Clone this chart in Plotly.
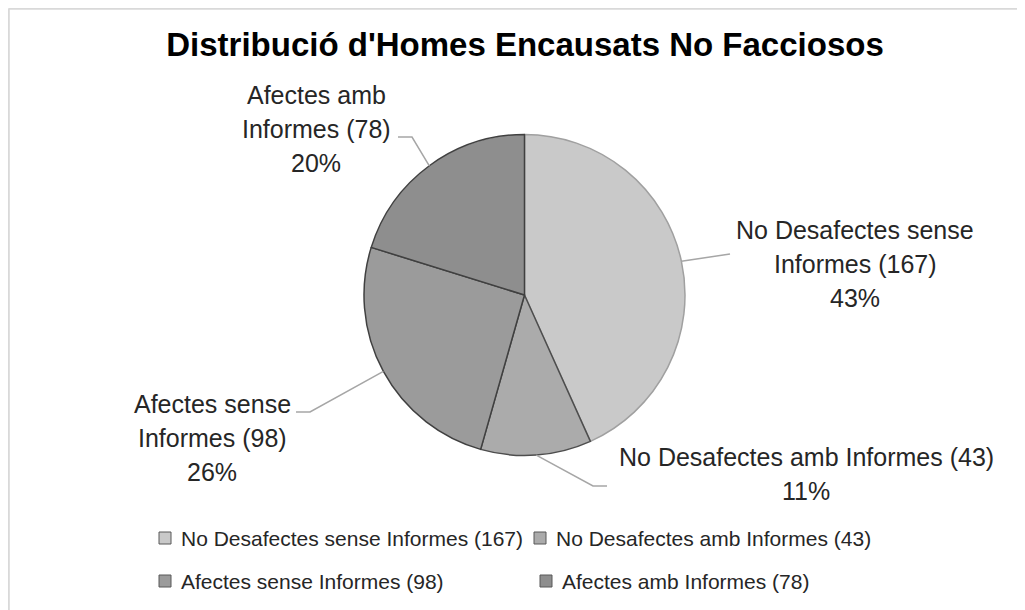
import math
import plotly.graph_objects as go

# ---------------- data ----------------
title = "Distribució d'Homes Encausats No Facciosos"
categories = [
    "No Desafectes sense Informes (167)",
    "No Desafectes amb Informes (43)",
    "Afectes sense Informes (98)",
    "Afectes amb Informes (78)",
]
values = [167, 43, 98, 78]
label_lines = [
    ["No Desafectes sense", "Informes (167)"],
    ["No Desafectes amb Informes (43)"],
    ["Afectes sense", "Informes (98)"],
    ["Afectes amb", "Informes (78)"],
]
pct_labels = ["43%", "11%", "26%", "20%"]

# ---------------- style ----------------
colors = ["#c9c9c9", "#ababab", "#9b9b9b", "#8e8e8e"]
border_colors = ["#a0a0a0", "#4d4d4d", "#404040", "#404040"]
FONT = "Liberation Sans"
OFF = 8                      # default page (body) margin of the html page
W, H = 1025 - OFF, 610 - OFF
CX, CY, R = 524.5, 295.0, 160.5           # pie centre / radius in window px
label_centres = [(855, 264), (806, 474), (212, 438), (316, 129)]
label_step = 34
leader_elbows = [
    [(730, 254)],
    [(593, 486), (607, 486)],
    [(310, 412), (296, 412)],
    [(412, 137), (398, 137)],
]
legend_cells = [(159, 538), (534, 538), (159, 581), (540, 581)]
LEG_SQ = 12


def px(x):
    return (x - OFF) / W


def py(y):
    return 1 - (y - OFF) / H


fig = go.Figure()
fig.add_trace(go.Pie(
    labels=categories,
    values=values,
    sort=False,
    direction="clockwise",
    rotation=0,
    textinfo="none",
    hoverinfo="label+value+percent",
    marker=dict(colors=colors, line=dict(color=border_colors, width=1.5)),
    domain=dict(x=[px(CX - R), px(CX + R)], y=[py(CY + R), py(CY - R)]),
    showlegend=False,
))

shapes = []
annotations = []

# chart-area frame (top and left edges visible)
shapes.append(dict(type="line", xref="paper", yref="paper", x0=px(8.5), x1=px(1040),
                   y0=py(8.8), y1=py(8.8), line=dict(color="#d9d9d9", width=2)))
shapes.append(dict(type="line", xref="paper", yref="paper", x0=px(8.8), x1=px(8.8),
                   y0=py(8.5), y1=py(640), line=dict(color="#d9d9d9", width=2)))

# data labels + leader lines
total = sum(values)
cum = 0
for i, v in enumerate(values):
    mid = (cum + v / 2) / total * 2 * math.pi
    cum += v
    ex = CX + R * math.sin(mid)
    ey = CY - R * math.cos(mid)
    pts = [(ex, ey)] + leader_elbows[i]
    path = "M" + " L".join(f"{px(x):.5f},{py(y):.5f}" for x, y in pts)
    shapes.append(dict(type="path", xref="paper", yref="paper", path=path,
                       line=dict(color="#a6a6a6", width=1.5)))
    lines = label_lines[i] + [pct_labels[i]]
    lx, ly = label_centres[i]
    n = len(lines)
    for k, t in enumerate(lines):
        yy = ly + (k - (n - 1) / 2) * label_step
        annotations.append(dict(text=t, x=px(lx), y=py(yy), xref="paper", yref="paper",
                                showarrow=False, xanchor="center", yanchor="middle",
                                font=dict(family=FONT, size=25, color="#262626")))

# legend (manual, Excel style grid)
for i, name in enumerate(categories):
    lx, ly = legend_cells[i]
    shapes.append(dict(type="rect", xref="paper", yref="paper",
                       x0=px(lx), x1=px(lx + LEG_SQ), y0=py(ly + LEG_SQ / 2), y1=py(ly - LEG_SQ / 2),
                       fillcolor=colors[i], line=dict(color="#595959", width=1)))
    annotations.append(dict(text=name, x=px(lx + LEG_SQ + 8), y=py(ly), xref="paper", yref="paper",
                            showarrow=False, xanchor="left", yanchor="middle",
                            font=dict(family=FONT, size=21, color="#262626")))

fig.update_layout(
    width=W, height=H,
    margin=dict(l=0, r=0, t=0, b=0),
    paper_bgcolor="white",
    plot_bgcolor="white",
    title=dict(text="<b>" + title + "</b>", x=px(525), xanchor="center",
               y=py(44), yanchor="middle", yref="container",
               font=dict(family=FONT, size=33, color="#000000")),
    shapes=shapes,
    annotations=annotations,
)

fig.write_html("out.html")
